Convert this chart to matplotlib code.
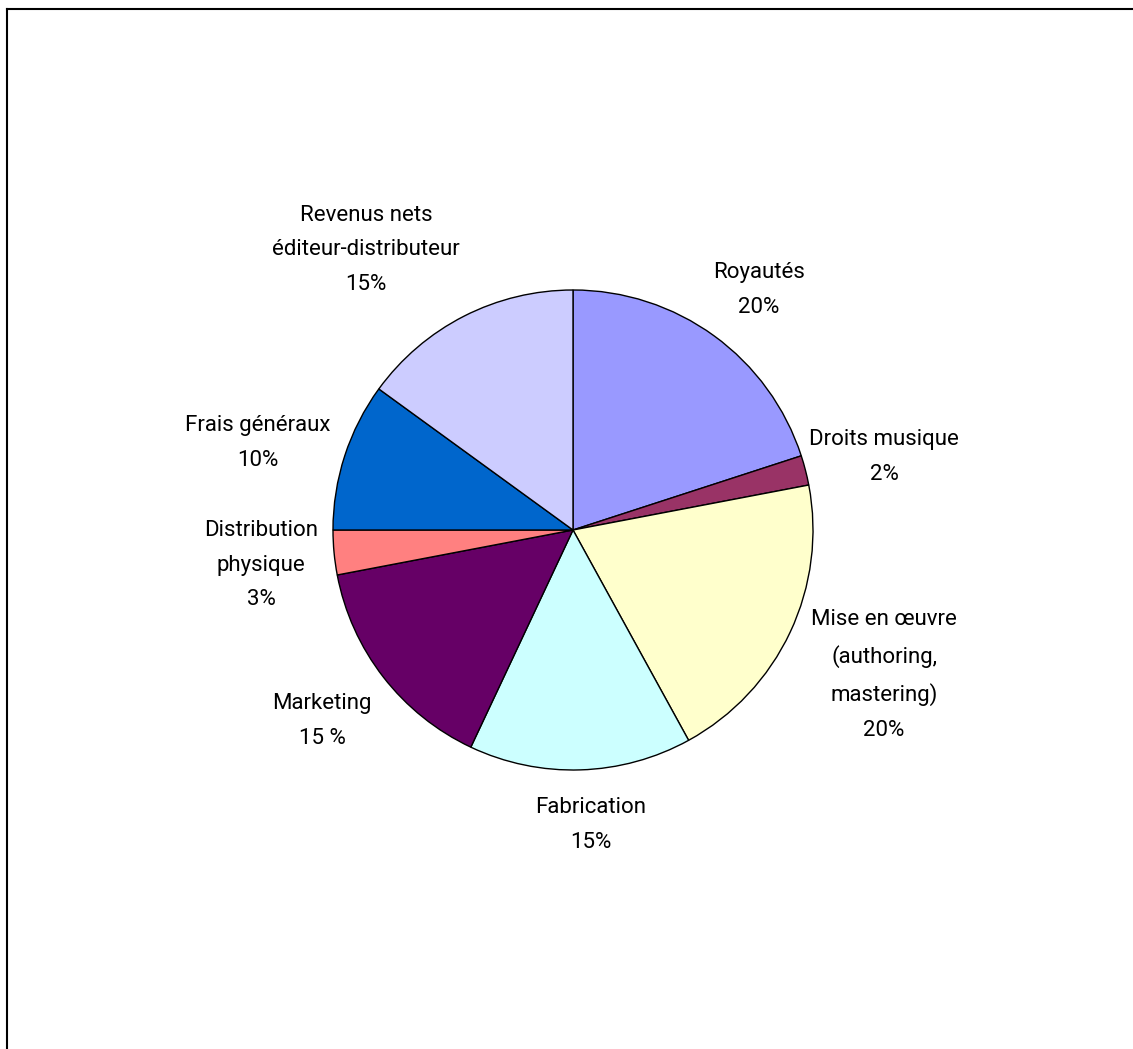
import matplotlib
matplotlib.use('Agg')
import matplotlib.pyplot as plt

plt.rcParams['font.family'] = ['Roboto', 'DejaVu Sans']

# Données
categories = ['Royautés', 'Droits musique', 'Mise en œuvre\n(authoring,\nmastering)',
              'Fabrication', 'Marketing', 'Distribution\nphysique', 'Frais généraux',
              'Revenus nets\néditeur-distributeur']
valeurs = [20, 2, 20, 15, 15, 3, 10, 15]
etiquettes_pct = ['20%', '2%', '20%', '15%', '15 %', '3%', '10%', '15%']
couleurs = ['#9999FF', '#993366', '#FFFFCC', '#CCFFFF', '#660066', '#FF8080', '#0066CC', '#CCCCFF']

# positions des étiquettes (coordonnées du camembert, rayon = 1)
pos_etiquettes = [(0.775, 1.0), (1.296, 0.304), (1.296, -0.604), (0.075, -1.229),
                  (-1.046, -0.796), (-1.30, -0.146), (-1.3125, 0.3625), (-0.8625, 1.167)]

W, H = 1133, 1049
fig = plt.figure(figsize=(W / 100, H / 100), dpi=100)

# cadre (haut et gauche seulement visibles)
fig.add_artist(plt.Line2D([7 / W, 1], [1 - 9 / H, 1 - 9 / H], color='black', lw=1.5))
fig.add_artist(plt.Line2D([7 / W, 7 / W], [0, 1 - 9 / H], color='black', lw=1.5))

cx, cy, r = 573, 530, 240
ax = fig.add_axes([(cx - r) / W, (H - cy - r) / H, 2 * r / W, 2 * r / H])
ax.pie(valeurs, colors=couleurs, startangle=90, counterclock=False, radius=1,
       wedgeprops={'edgecolor': 'black', 'linewidth': 1})
ax.set_xlim(-1, 1)
ax.set_ylim(-1, 1)
ax.set_aspect('equal')
ax.axis('off')

for cat, pct, (x, y) in zip(categories, etiquettes_pct, pos_etiquettes):
    ax.text(x, y, cat + '\n' + pct, ha='center', va='center', fontsize=16,
            linespacing=1.85, clip_on=False)

plt.savefig('out.png', dpi=100)
